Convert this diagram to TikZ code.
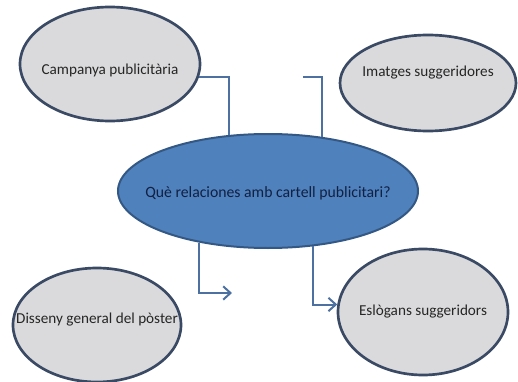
\documentclass[tikz,border=0pt]{standalone}
\usepackage{fontspec}
\setmainfont{Carlito}
\usepackage{tikz}
\usetikzlibrary{shapes.geometric,arrows.meta}
\definecolor{BubGray}{RGB}{218,218,220}
\definecolor{BubLine}{RGB}{58,74,100}
\definecolor{QBlue}{RGB}{79,129,189}
\definecolor{QLine}{RGB}{52,88,132}
\definecolor{LinkBlue}{RGB}{76,112,160}
\definecolor{QText}{RGB}{18,32,66}

\begin{document}
\begin{tikzpicture}[x=0.75pt,y=-0.75pt,
    bub/.style={ellipse,draw=BubLine,fill=BubGray,line width=2pt,inner sep=0pt},
    txt/.style={font=\fontsize{11.4}{13}\selectfont,text=black!85,inner sep=0pt},
    link/.style={draw=LinkBlue,line width=1.5pt},
    tip/.style={-{Straight Barb[length=5.5pt,width=10pt,line width=1.5pt]}}]
  \useasboundingbox (0,0) rectangle (518,382);

  % central question
  \node[ellipse,draw=QLine,fill=QBlue,line width=1.5pt,inner sep=0pt,
        minimum width=225pt,minimum height=85.5pt,
        label={[txt,text=QText,font=\fontsize{11.8}{14}\selectfont,yshift=-1.5pt]center:Què relaciones amb cartell publicitari?}]
        (q) at (268,191) {};

  % the four ideas
  \node[bub,minimum width=135pt,minimum height=85.5pt,
        label={[txt,yshift=-4.5pt]center:Campanya publicitària}] (camp) at (110,64) {};
  \node[bub,minimum width=132pt,minimum height=72pt,
        label={[txt,yshift=7.5pt]center:Imatges suggeridores}] (img) at (428,83) {};
  \node[bub,minimum width=126pt,minimum height=85.5pt,
        label={[txt,yshift=3.75pt]center:Disseny general del pòster}] (dis) at (97,325) {};
  \node[bub,minimum width=127.5pt,minimum height=94.5pt,
        label={[txt]center:Eslògans suggeridors}] (eslo) at (423,312) {};

  % connectors
  \coordinate (imgend) at (303,77);
  \coordinate (disend) at (232,293);
  \draw[link] (camp.-8) -| (q.125);
  \draw[link] (imgend) -| (q.45);
  \draw[link,tip] (q.217) |- (disend);
  \draw[link,tip] (q.-51) |- (eslo.175);
\end{tikzpicture}
\end{document}
